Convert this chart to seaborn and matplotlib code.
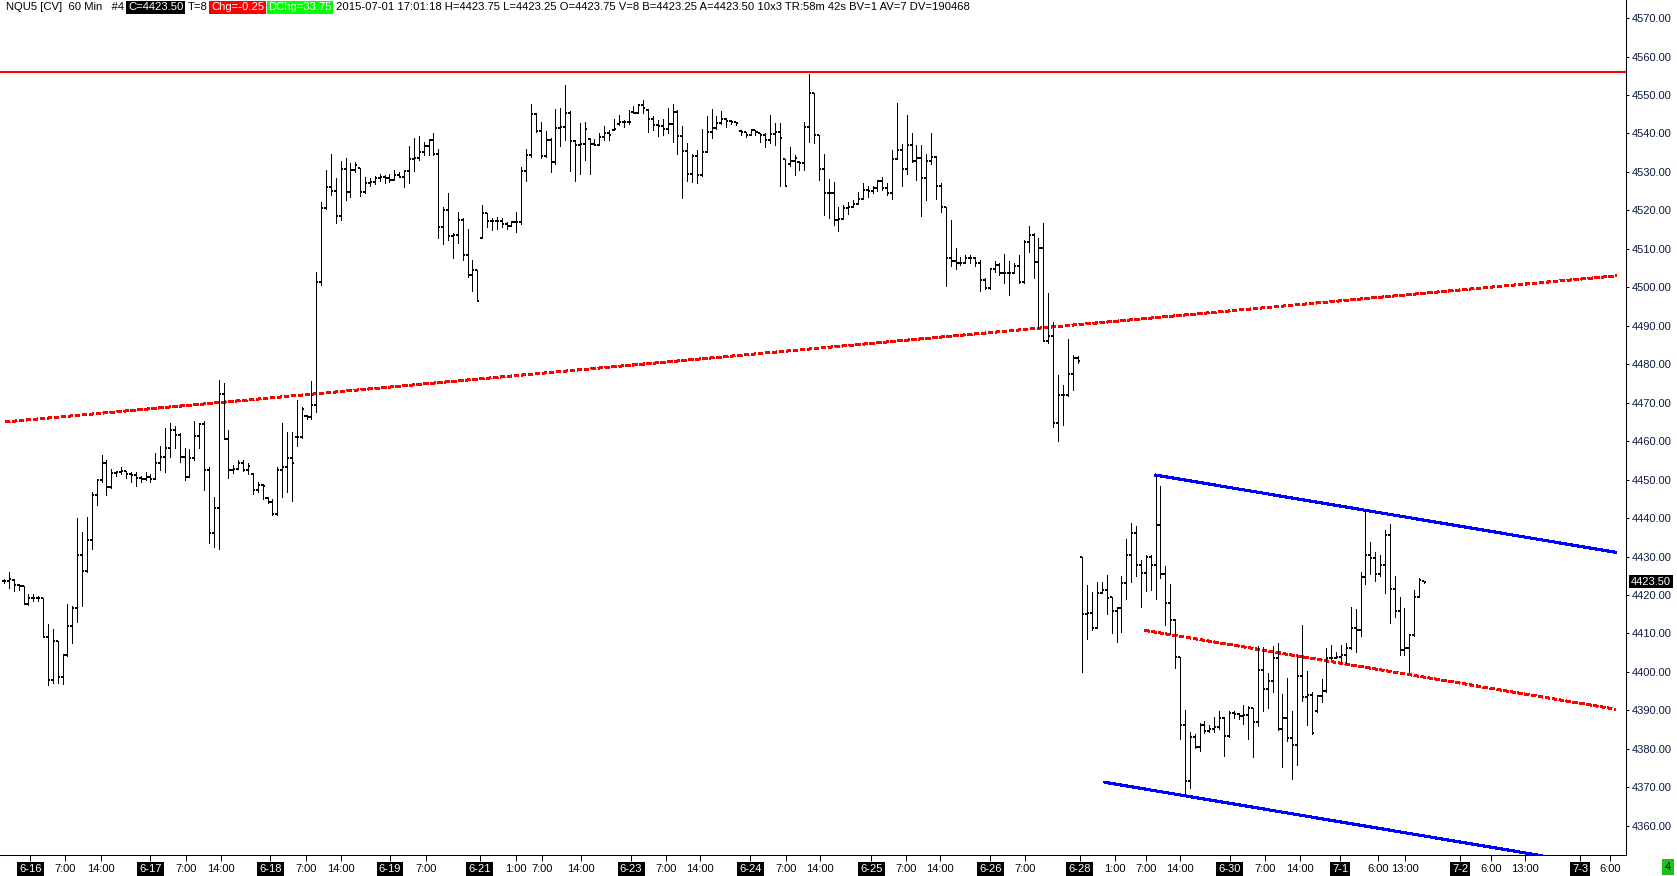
import numpy as np
import pandas as pd
import matplotlib
matplotlib.use("Agg")
import matplotlib.pyplot as plt
import seaborn as sns

# NQU5 60 min bars, 6-16 .. 7-1
opens = [
    4423.75, 4423.75, 4424, 4422.5, 4422.25, 4417.75, 4419.25, 4419.25, 4419.25, 4409,
    4398, 4408, 4398.75, 4404.5, 4412, 4416.5, 4430.5, 4426.25, 4434.25, 4446,
    4450, 4454.25, 4448, 4451.75, 4452, 4452.25, 4451.5, 4451.25, 4450.5, 4450.25,
    4450.75, 4450.25, 4454.25, 4456, 4458.25, 4463, 4461.5, 4456, 4450.75, 4455.5,
    4461.25, 4464.5, 4452.5, 4436.25, 4442.5, 4472.25, 4460.5, 4452.5, 4452.75, 4454.25,
    4452.5, 4451.5, 4447.25, 4448.5, 4445.25, 4444.25, 4441, 4452.5, 4453.25, 4455.5,
    4461, 4461, 4466.5, 4466.25, 4469.5, 4501.5, 4520.5, 4526, 4525, 4518.5,
    4530.75, 4524.75, 4530.5, 4531, 4524.75, 4527.25, 4527.5, 4528.5, 4528.75, 4528.5,
    4528, 4529.25, 4528.75, 4530.25, 4533.25, 4533.5, 4535.25, 4536.75, 4538.25, 4534.75,
    4515.75, 4520, 4513.25, 4513.5, 4517.5, 4508.5, 4503.25, 4504.5, 4512.75, 4519.25,
    4517.25, 4517.25, 4517.25, 4516.5, 4516, 4517, 4517, 4530.25, 4534.5, 4545,
    4540.75, 4534.25, 4538.25, 4532.5, 4541.5, 4541.75, 4545.25, 4538, 4537, 4537.25,
    4538.5, 4537.25, 4537, 4539, 4540, 4541, 4542.5, 4543, 4543, 4545.5,
    4545.25, 4547.5, 4546, 4543.75, 4542.25, 4542, 4541.25, 4542.5, 4545.5, 4539.25,
    4535.5, 4529.5, 4534.25, 4529.25, 4535.25, 4540.5, 4541.5, 4542.75, 4543.75, 4543.25,
    4543, 4540.75, 4540.5, 4539.5, 4541, 4540.25, 4539.5, 4538.25, 4539.75, 4540.5,
    4533.25, 4532, 4532.75, 4532.5, 4532.25, 4541.75, 4550.5, 4539.5, 4530.75, 4524.5,
    4524.5, 4517.5, 4517.75, 4520.5, 4521, 4521.75, 4523, 4525.25, 4525, 4525.75,
    4527.75, 4525.75, 4524.5, 4533.25, 4535.75, 4530.75, 4537, 4532.75, 4533.75, 4528.5,
    4532.75, 4534, 4526.25, 4521, 4507.75, 4506.75, 4506.25, 4506.25, 4507.75, 4507.5,
    4506.25, 4502, 4499.75, 4504.75, 4505.75, 4503.75, 4503.75, 4503.75, 4505.5, 4501.5,
    4511.75, 4513.5, 4506.5, 4510.25, 4486, 4487.25, 4464.75, 4472, 4472, 4477.5,
    4481.5, 4430, 4415, 4415.25, 4411.5, 4420.5, 4421.25, 4419.5, 4415.75, 4416.5,
    4423.25, 4430.5, 4436, 4427.75, 4425.75, 4430, 4427.75, 4438.25, 4425.5, 4418,
    4413.5, 4404, 4386.25, 4371.75, 4383, 4380.5, 4386.25, 4384.75, 4385.25, 4385.75,
    4388, 4383.25, 4389.25, 4389, 4388.5, 4388.75, 4390.5, 4387, 4400.5, 4395.5,
    4397.75, 4403.5, 4385.25, 4388, 4382.75, 4381, 4399, 4393.5, 4394, 4389.75,
    4393.75, 4395, 4403.5, 4403.75, 4404, 4404.5, 4406.25, 4411.5, 4411, 4424.75,
    4430.5, 4429.75, 4425.5, 4427.75, 4435.5, 4421.5, 4415.75, 4405.75, 4406.25, 4409.5,
    4419.5, 4423.75,
]
highs = [
    4424.25, 4426, 4424.25, 4422.75, 4422.25, 4420.25, 4420.25, 4419.75, 4419.25, 4412.5,
    4411.25, 4408, 4404.75, 4417.75, 4417.25, 4440, 4436.5, 4440.25, 4446.75, 4450,
    4456.5, 4455, 4452.75, 4452.25, 4453.25, 4452.25, 4452, 4452, 4451, 4452,
    4451.5, 4457, 4458.75, 4463.5, 4464.75, 4464, 4462, 4458.25, 4458, 4465.25,
    4464.75, 4465.25, 4453.25, 4445.5, 4476, 4475, 4463, 4453.75, 4455, 4455,
    4454.25, 4451.75, 4449.5, 4448.75, 4445.5, 4445, 4453.25, 4464.75, 4462.5, 4462.5,
    4470.75, 4469, 4466.75, 4475.75, 4504, 4522.25, 4530.5, 4534.75, 4528.5, 4532.75,
    4533.5, 4532.25, 4532.5, 4531, 4528.75, 4528.5, 4529, 4529.5, 4529.25, 4529.5,
    4530.5, 4530, 4530.5, 4536.75, 4538.75, 4539.25, 4537.75, 4538.5, 4540.25, 4536,
    4521, 4524.5, 4514, 4519.5, 4518, 4515.25, 4507, 4504.5, 4521.5, 4519.25,
    4518, 4518.25, 4518, 4517, 4517.25, 4519.5, 4531.25, 4536, 4547.75, 4545.25,
    4543, 4540.75, 4538.75, 4546.25, 4546.75, 4552.5, 4545.75, 4538.25, 4542.75, 4543,
    4538.75, 4538.5, 4540.25, 4542, 4541, 4543.75, 4544.75, 4543.5, 4546, 4547.25,
    4547.75, 4548.75, 4546.25, 4544.5, 4543.5, 4543.75, 4546.5, 4547.75, 4546, 4542,
    4537.5, 4534.75, 4535.75, 4541.25, 4544.5, 4546.25, 4544.5, 4545.75, 4544, 4543.5,
    4543, 4541, 4540.5, 4541.25, 4541, 4540.25, 4540, 4544.75, 4542.75, 4542.75,
    4533.25, 4536.5, 4534.5, 4532.75, 4543, 4555.5, 4550.5, 4539.5, 4534.75, 4528.25,
    4527.5, 4521, 4521.5, 4522.25, 4522.75, 4524.75, 4527.25, 4526.25, 4526.25, 4528,
    4528.75, 4527, 4535.75, 4548, 4537.25, 4544.75, 4540, 4537, 4537, 4534.75,
    4540.25, 4534.25, 4527.25, 4521, 4517.5, 4510.25, 4508, 4508.5, 4508.5, 4508,
    4507, 4502.5, 4505, 4506.75, 4506.25, 4508.75, 4506.75, 4506.25, 4508.5, 4512.25,
    4516, 4514, 4512.75, 4516.75, 4498.5, 4491, 4477.25, 4474.5, 4486.5, 4482.5,
    4482.25, 4430, 4422.5, 4420.75, 4423.5, 4423.5, 4425.25, 4419.5, 4417, 4425,
    4434.5, 4438.75, 4438, 4429, 4430.5, 4430.5, 4451.25, 4448.25, 4427.5, 4422.75,
    4413.75, 4404, 4390, 4384.5, 4383.75, 4386.75, 4387.25, 4386.25, 4388.25, 4389.75,
    4388.25, 4389.75, 4389.75, 4389.25, 4391.5, 4391.25, 4390.75, 4406.75, 4406.5, 4399.75,
    4406.75, 4407.5, 4394.25, 4398.5, 4389.75, 4404.5, 4412.25, 4400.25, 4394.75, 4394,
    4398.25, 4406.25, 4407, 4405.25, 4407, 4407.5, 4417, 4416.25, 4426, 4442,
    4433.75, 4431.25, 4430.5, 4437, 4438.5, 4425, 4419.5, 4416.75, 4409.75, 4421.25,
    4424.5, 4423.75,
]
lows = [
    4423.25, 4421.75, 4421, 4421.25, 4417.75, 4417.5, 4418.5, 4418.5, 4409, 4396.5,
    4397.25, 4397.25, 4396.75, 4404.25, 4407.5, 4413, 4417.25, 4426, 4432, 4443.5,
    4449.5, 4446, 4447.75, 4451, 4451.5, 4450.5, 4449.5, 4448.25, 4449.5, 4450,
    4449.5, 4450.25, 4452.5, 4452, 4456, 4458.25, 4454.5, 4450, 4450.75, 4455,
    4458.25, 4447.25, 4433.5, 4432.5, 4432, 4460.5, 4450.5, 4451.75, 4452.75, 4452.25,
    4451.5, 4446.25, 4446.75, 4445, 4444, 4440.75, 4440.75, 4445.5, 4446.75, 4444.5,
    4458.75, 4460.75, 4465.75, 4465.75, 4467.5, 4500.5, 4520.25, 4524, 4516.75, 4517.5,
    4522.75, 4523.5, 4530, 4523.75, 4524.5, 4526.25, 4526.75, 4527.75, 4527, 4527.5,
    4528, 4528.75, 4526, 4527, 4530.25, 4533, 4534.5, 4534.5, 4534.5, 4512.75,
    4511.25, 4512.25, 4507.75, 4511.5, 4507, 4502.75, 4499, 4496.5, 4512.75, 4515.75,
    4515, 4515.25, 4515.75, 4515.25, 4516, 4514.5, 4516.5, 4527.75, 4534, 4540.5,
    4533.5, 4534, 4530, 4532, 4536.75, 4538.25, 4530.25, 4527.75, 4529.5, 4533,
    4529.5, 4537, 4537, 4538.25, 4538.25, 4541, 4542.25, 4541.75, 4542.5, 4545.25,
    4545.25, 4545.25, 4540.5, 4541, 4539.25, 4539.5, 4540, 4537.75, 4534.75, 4523.25,
    4527.75, 4527.5, 4527.25, 4529, 4535.25, 4538.75, 4541.25, 4542.5, 4541.75, 4542.5,
    4542.25, 4539.5, 4539, 4539.5, 4539.5, 4537.75, 4536.5, 4537.5, 4537, 4526.25,
    4526.25, 4531.5, 4529.25, 4530.5, 4530.5, 4537.75, 4537.5, 4528, 4518.75, 4518,
    4516.25, 4514.75, 4517.75, 4519, 4521, 4521.75, 4523, 4523.5, 4524.5, 4525,
    4525.25, 4524, 4523, 4533.25, 4526.25, 4529.5, 4532.5, 4528, 4518.5, 4522.75,
    4532, 4523, 4519.5, 4500.25, 4505.5, 4504.75, 4505.75, 4506.25, 4506.25, 4505.5,
    4499, 4499.5, 4499.5, 4504, 4503.25, 4501.25, 4498, 4503.75, 4501.25, 4501.25,
    4509.25, 4502.5, 4489.5, 4486, 4485.5, 4463.75, 4460, 4464.25, 4471.75, 4473.25,
    4480.25, 4400, 4408.5, 4411, 4411.5, 4420.5, 4415, 4410, 4407.75, 4410.5,
    4419, 4423.5, 4425, 4417, 4421, 4421.25, 4419, 4424.5, 4412.25, 4409.75,
    4401, 4382.5, 4368.5, 4369.75, 4380.25, 4379.5, 4384, 4384.5, 4384.5, 4385.25,
    4378.25, 4383, 4388, 4387.75, 4386.5, 4382.5, 4378, 4386, 4389.75, 4390.75,
    4394.75, 4385, 4375.25, 4382, 4372.25, 4375.75, 4392.5, 4386.25, 4383.75, 4389.5,
    4392.25, 4394.75, 4403.25, 4403.5, 4402.25, 4402.25, 4406, 4405.25, 4409.25, 4422.75,
    4425.5, 4423.75, 4425, 4420.5, 4412.75, 4414.25, 4404.5, 4404.5, 4400, 4409.25,
    4419.5, 4423.25,
]
closes = [
    4423.75, 4424.25, 4422.5, 4422.25, 4417.75, 4419.25, 4419.25, 4419.25, 4409, 4398,
    4408, 4398.75, 4404.5, 4412, 4416.5, 4430.5, 4426.25, 4434.25, 4446, 4450,
    4454.25, 4448, 4451.75, 4452, 4452.25, 4451.5, 4451.25, 4450.5, 4450.25, 4450.75,
    4450.25, 4454.25, 4456, 4458.25, 4463, 4461.5, 4456, 4450.75, 4455.5, 4461.25,
    4464.5, 4452.5, 4436.25, 4442.5, 4472.25, 4460.5, 4452.5, 4452.75, 4454.25, 4452.5,
    4453.5, 4447.25, 4448.5, 4448.25, 4444.25, 4441, 4452.5, 4453.25, 4455.5, 4454.25,
    4461, 4468.25, 4466.25, 4469.5, 4501.5, 4520.5, 4526, 4525, 4518.5, 4530.75,
    4524.75, 4530.5, 4531.75, 4524.75, 4527.25, 4527.5, 4528.5, 4528.75, 4528.5, 4528,
    4529.25, 4528.75, 4530.25, 4533.25, 4533.5, 4535.25, 4536.75, 4538.25, 4534.75, 4515.75,
    4520, 4513.25, 4513.5, 4517.5, 4508.5, 4503.25, 4504.5, 4496.5, 4519.25, 4517.25,
    4517.25, 4517.25, 4516.5, 4516, 4517, 4517, 4530.25, 4534.5, 4545, 4540.75,
    4534.25, 4538.25, 4532.5, 4541.5, 4541.75, 4545.25, 4538, 4537, 4537.25, 4541.25,
    4537.25, 4537, 4539, 4540, 4539.5, 4541.25, 4543, 4543, 4543, 4545.25,
    4547.5, 4546.5, 4543.75, 4542.25, 4542, 4541.25, 4542.5, 4545.5, 4539.25, 4535.5,
    4529.5, 4534.25, 4529.25, 4535.25, 4540.5, 4541.5, 4542.75, 4543.75, 4543.25, 4543,
    4542.75, 4540.5, 4539.5, 4541, 4540.5, 4539.5, 4538.25, 4539.75, 4540.5, 4538.75,
    4526.25, 4532.75, 4533.75, 4532.25, 4541.75, 4550.5, 4539.5, 4530.75, 4524.5, 4524.5,
    4517.5, 4517.75, 4520.5, 4521, 4521.75, 4523, 4525.25, 4525, 4525.75, 4527.75,
    4525.75, 4524.5, 4533.25, 4535.75, 4530.75, 4537, 4532.75, 4533.75, 4528.5, 4532.75,
    4534, 4526.25, 4521, 4507.75, 4506.75, 4506.25, 4506.25, 4507.75, 4507.5, 4506.25,
    4502, 4499.75, 4504.75, 4505.75, 4503.75, 4503.75, 4503.75, 4505.5, 4501.5, 4511.75,
    4513.5, 4506.5, 4510.25, 4486, 4487.25, 4464.75, 4472, 4472, 4477.5, 4481.5,
    4480.75, 4415, 4415.25, 4411.5, 4420.5, 4421.25, 4419.25, 4415.75, 4416.5, 4423.25,
    4430.5, 4436, 4427.75, 4425.75, 4430, 4427.75, 4438.25, 4425.5, 4418, 4413.5,
    4404, 4386.25, 4371.75, 4383, 4380.5, 4386.25, 4384.75, 4385.25, 4385.75, 4388,
    4383.25, 4389.25, 4389, 4388.5, 4388.75, 4390.5, 4387, 4400.5, 4395.5, 4397.75,
    4403.5, 4385.25, 4388, 4382.75, 4381, 4399, 4393.5, 4394, 4384, 4393.75,
    4395, 4403.5, 4403.75, 4404, 4404.5, 4406.25, 4411.5, 4411, 4424.75, 4430.5,
    4429.75, 4425.5, 4427.75, 4435.5, 4421.5, 4415.75, 4405.75, 4406.25, 4409.5, 4419.5,
    4424, 4423.5,
]

# drawn study lines (x in bar numbers)
resistance = 4556.0
trend_x = [0.3, 330.5]
trend_y = [4465.0, 4503.0]
chan_top_x = [235.9, 330.3]
chan_top_y = [4451.2, 4431.1]
chan_mid_x = [233.8, 330.3]
chan_mid_y = [4410.8, 4390.3]
chan_bot_x = [225.6, 315.2]
chan_bot_y = [4371.3, 4352.2]

date_ticks = [5.4, 30.0, 54.6, 79.1, 97.5, 128.5, 152.9, 177.7, 202.1, 220.5, 251.2, 273.8, 298.4, 323.0]
date_labels = ["6-16", "6-17", "6-18", "6-19", "6-21", "6-23", "6-24", "6-25", "6-26",
               "6-28", "6-30", "7-1", "7-2", "7-3"]
hour_ticks = [12.5, 19.9, 37.3, 44.5, 61.9, 69.1, 86.5, 104.9, 110.3, 118.2, 135.7, 142.6,
              160.2, 167.2, 184.9, 191.8, 209.2, 227.7, 234.0, 241.0, 258.5, 265.6,
              281.6, 287.1, 304.7, 311.6, 329.1]
hour_labels = ["7:00", "14:00", "7:00", "14:00", "7:00", "14:00", "7:00", "1:00", "7:00",
               "14:00", "7:00", "14:00", "7:00", "14:00", "7:00", "14:00", "7:00", "1:00",
               "7:00", "14:00", "7:00", "14:00", "6:00", "13:00", "6:00", "13:00", "6:00"]
price_ticks = [4360, 4370, 4380, 4390, 4400, 4410, 4420, 4430, 4440, 4450, 4460,
               4470, 4480, 4490, 4500, 4510, 4520, 4530, 4540, 4550, 4560, 4570]
last_price = 4423.50

bars = pd.DataFrame({"open": opens, "high": highs, "low": lows, "close": closes})
bars["x"] = np.arange(len(bars))

sns.set_theme(style="white")
plt.rcParams["font.family"] = ["Liberation Sans", "DejaVu Sans"]
FS = 8

W, H = 1677, 876
fig = plt.figure(figsize=(W / 100, H / 100), dpi=100)
ax = fig.add_axes([0, 21 / H, 1626 / W, 1 - 21 / H])

# OHLC bars
ax.vlines(bars["x"], bars["low"], bars["high"], color="black", lw=0.68, antialiased=False, zorder=3)
ax.hlines(bars["open"], bars["x"] - 0.42, bars["x"], color="black", lw=1.4, antialiased=False, zorder=3)
ax.hlines(bars["close"], bars["x"], bars["x"] + 0.42, color="black", lw=1.4, antialiased=False, zorder=3)

# study lines
dash = (0, (2.4, 1.0))
ax.axhline(resistance, color="#ff0000", lw=1.5, zorder=2)
sns.lineplot(x=trend_x, y=trend_y, ax=ax, color="#ff0000", lw=1.5, linestyle=dash, antialiased=False)
sns.lineplot(x=chan_mid_x, y=chan_mid_y, ax=ax, color="#ff0000", lw=1.5, linestyle=dash, antialiased=False)
sns.lineplot(x=chan_top_x, y=chan_top_y, ax=ax, color="#0000ff", lw=1.5, antialiased=False)
sns.lineplot(x=chan_bot_x, y=chan_bot_y, ax=ax, color="#0000ff", lw=1.5, antialiased=False)

ax.set_xlim(-0.82, 332.4)
ax.set_ylim(4352.4, 4574.7)
ax.grid(False)
ax.set_xlabel("")
ax.set_ylabel("")
for side in ["left", "top"]:
    ax.spines[side].set_visible(False)
for side in ["right", "bottom"]:
    ax.spines[side].set_color("black")
    ax.spines[side].set_linewidth(0.75)

# right price scale
ax.yaxis.tick_right()
ax.set_yticks(price_ticks)
ax.set_yticklabels([f"{p:.2f}" for p in price_ticks])
ax.tick_params(axis="y", right=True, left=False, length=2, width=0.75, color="black",
               pad=2, labelsize=FS, labelcolor="#0a1a40")

# time scale
xt = date_ticks + hour_ticks
xl = date_labels + hour_labels
ax.set_xticks(xt)
ax.set_xticklabels(xl)
ax.tick_params(axis="x", bottom=True, length=4, width=0.75, color="black", pad=2.8,
               labelsize=FS, labelcolor="black")
for lbl in ax.get_xticklabels():
    if lbl.get_text() in date_labels:
        lbl.set_color("white")
        lbl.set_bbox(dict(facecolor="black", edgecolor="none", boxstyle="square,pad=0.2"))

# last price marker on the scale
ax.text(1.003, last_price, f"{last_price:.2f}", transform=ax.get_yaxis_transform(),
        ha="left", va="center", fontsize=FS, color="white", clip_on=False, zorder=6,
        bbox=dict(facecolor="black", edgecolor="none", boxstyle="square,pad=0.15"))

# header line
header = [
    ("NQU5 [CV]  60 Min   #4", None),
    ("C=4423.50", "black"),
    ("T=8", None),
    ("Chg=-0.25", "#ff0000"),
    ("DChg=33.75", "#00ff00"),
    ("2015-07-01 17:01:18 H=4423.75 L=4423.25 O=4423.75 V=8 B=4423.25 A=4423.50 "
     "10x3 TR:58m 42s BV=1 AV=7 DV=190468", None),
]
renderer = fig.canvas.get_renderer()
x_px = 6
for txt, bg in header:
    kw = {"color": "black"}
    if bg:
        kw = {"color": "white",
              "bbox": dict(facecolor=bg, edgecolor="none", boxstyle="square,pad=0.15")}
    t = fig.text(x_px / W, 1 - 10.5 / H, txt, fontsize=8.1, ha="left", va="baseline", **kw)
    x_px = t.get_window_extent(renderer).x1 + 4

fig.text(1668 / W, 1 - 867 / H, "4", ha="center", va="center", fontsize=FS, color="black",
         bbox=dict(facecolor="#1fbf1f", edgecolor="none", boxstyle="square,pad=0.3"))

fig.savefig("out.png", dpi=100)
